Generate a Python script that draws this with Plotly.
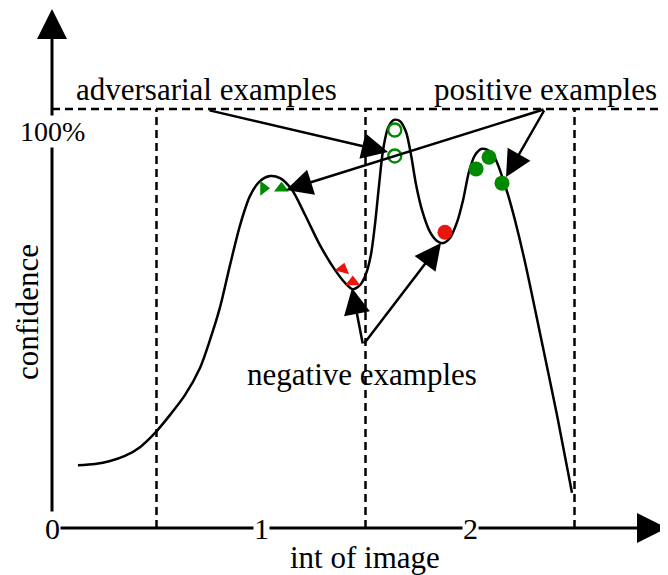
import plotly.graph_objects as go

# ---- data (x in "int of image" units, y in confidence %) ----
curve_x = [0.124, 0.206, 0.278, 0.349, 0.421, 0.493, 0.565, 0.636, 0.708, 0.756,
           0.804, 0.852, 0.900, 0.947, 0.995, 1.043, 1.091, 1.148, 1.211, 1.282,
           1.354, 1.402, 1.440, 1.474, 1.502, 1.526, 1.545, 1.565, 1.584, 1.608,
           1.636, 1.665, 1.694, 1.718, 1.742, 1.770, 1.809, 1.842, 1.871, 1.904,
           1.938, 1.967, 1.995, 2.024, 2.057, 2.091, 2.124, 2.153, 2.182, 2.215,
           2.263, 2.335, 2.416, 2.488]
curve_y = [15.0, 15.3, 16.0, 17.2, 19.3, 22.7, 27.0, 31.7, 38.2, 44.9,
           52.7, 62.8, 72.3, 79.2, 82.8, 84.0, 83.5, 80.7, 74.7, 67.5,
           61.6, 58.5, 57.0, 58.0, 60.6, 65.2, 72.3, 81.9, 90.2, 95.5,
           97.4, 97.1, 94.5, 89.0, 81.9, 75.9, 70.6, 68.5, 68.0, 69.2,
           73.0, 78.3, 85.0, 89.0, 90.5, 90.0, 87.8, 84.0, 79.5, 73.5,
           63.5, 46.5, 27.0, 8.4]

pos_tri_x = [1.012, 1.098]
pos_tri_y = [81.1, 81.1]
pos_tri_sym = ["triangle-right", "triangle-up"]

neg_tri_x = [1.391, 1.439]
neg_tri_y = [61.8, 58.7]
neg_tri_angle = [15, 0]

adv_x = [1.640, 1.640]
adv_y = [95.0, 88.8]

pos_dot_x = [2.029, 2.091, 2.153]
pos_dot_y = [85.7, 88.5, 82.3]

neg_dot_x = [1.880]
neg_dot_y = [70.6]

tick_vals = [0, 1, 2]
tick_text = ["0", "1", "2"]
guide_x = [0.5, 1.5, 2.5]
top_level = 100
top_label = "100%"

FONT = "Liberation Serif"
FS = 31

# screen-pixel mapping (page has an 8px body margin):
# x=0 at screen px 52, 209 px/unit ; y=0 at screen px 528, 4.19 px/%
OFF = 8
W, H = 668, 575
X0, X1 = (OFF - 52) / 209, (OFF + W - 52) / 209
Y0, Y1 = (528 - (OFF + H)) / 4.19, (528 - OFF) / 4.19

def px(p):
    return (p - 52) / 209

def py(p):
    return (528 - p) / 4.19

GREEN = "#008a00"
RED = "#e8160c"

fig = go.Figure()
fig.add_trace(go.Scatter(x=curve_x, y=curve_y, mode="lines",
                         line=dict(color="black", width=2.5, shape="spline", smoothing=0.8),
                         hoverinfo="skip", showlegend=False))
fig.add_trace(go.Scatter(x=pos_tri_x, y=pos_tri_y, mode="markers",
                         marker=dict(symbol=pos_tri_sym, size=13, color=GREEN),
                         showlegend=False))
fig.add_trace(go.Scatter(x=neg_tri_x, y=neg_tri_y, mode="markers",
                         marker=dict(symbol="triangle-up", angle=neg_tri_angle, size=13, color=RED),
                         showlegend=False))
fig.add_trace(go.Scatter(x=adv_x, y=adv_y, mode="markers",
                         marker=dict(symbol="circle-open", size=13, color=GREEN,
                                     line=dict(width=2.4, color=GREEN)),
                         showlegend=False))
fig.add_trace(go.Scatter(x=pos_dot_x, y=pos_dot_y, mode="markers",
                         marker=dict(symbol="circle", size=15, color=GREEN),
                         showlegend=False))
fig.add_trace(go.Scatter(x=neg_dot_x, y=neg_dot_y, mode="markers",
                         marker=dict(symbol="circle", size=15, color=RED),
                         showlegend=False))

# dashed guide lines
dash = dict(color="black", width=2.5, dash="8px,5px")
fig.add_shape(type="line", x0=0, x1=X1, y0=top_level, y1=top_level, line=dash)
for gx in guide_x:
    fig.add_shape(type="line", x0=gx, x1=gx, y0=0, y1=top_level, line=dash)

ann = []
# axes with arrows
ann.append(dict(x=0, y=py(9), ax=0, ay=0, xref="x", yref="y", axref="x", ayref="y",
                text="", showarrow=True, arrowhead=2, arrowsize=2.0, arrowwidth=3,
                arrowcolor="black", standoff=0, startstandoff=0))
ann.append(dict(x=px(667), y=0, ax=0, ay=0, xref="x", yref="y", axref="x", ayref="y",
                text="", showarrow=True, arrowhead=2, arrowsize=2.0, arrowwidth=3,
                arrowcolor="black", standoff=0, startstandoff=0))

# pointer arrows
def arrow(tail, head):
    return dict(x=px(head[0]), y=py(head[1]), ax=px(tail[0]), ay=py(tail[1]),
                xref="x", yref="y", axref="x", ayref="y", text="", showarrow=True,
                arrowhead=2, arrowsize=2.1, arrowwidth=2.5, arrowcolor="black",
                standoff=0, startstandoff=0)

ann.append(arrow((208, 110), (388, 152)))
ann.append(arrow((545, 109), (286, 190)))
ann.append(arrow((545, 109), (506, 177)))
ann.append(arrow((363, 345), (352, 288)))
ann.append(arrow((363, 345), (441, 243)))

# tick labels on the axis
for v, t in zip(tick_vals, tick_text):
    ann.append(dict(x=v, y=0, xref="x", yref="y", text=t, showarrow=False,
                    font=dict(family=FONT, size=30, color="black"),
                    bgcolor="white", borderpad=0, xanchor="center", yanchor="middle"))
ann.append(dict(x=0, y=py(131), xref="x", yref="y", text=top_label, showarrow=False,
                font=dict(family=FONT, size=28, color="black"),
                bgcolor="white", borderpad=0, xanchor="center", yanchor="middle"))

# text labels
def label(t, cx, cy, angle=0):
    return dict(x=px(cx), y=py(cy), xref="x", yref="y", text=t, showarrow=False,
                font=dict(family=FONT, size=FS, color="black"), textangle=angle,
                xanchor="center", yanchor="middle")

ann.append(label("adversarial examples", 206, 89))
ann.append(label("positive examples", 545, 89))
ann.append(label("negative examples", 362, 374))
ann.append(label("int of image", 365, 557))
ann.append(label("confidence", 27, 312, -90))

fig.update_layout(
    width=W, height=H,
    margin=dict(l=0, r=0, t=0, b=0),
    paper_bgcolor="white", plot_bgcolor="white",
    xaxis=dict(range=[X0, X1], visible=False, fixedrange=True),
    yaxis=dict(range=[Y0, Y1], visible=False, fixedrange=True),
    annotations=ann,
    showlegend=False,
)

fig.write_html("out.html")
